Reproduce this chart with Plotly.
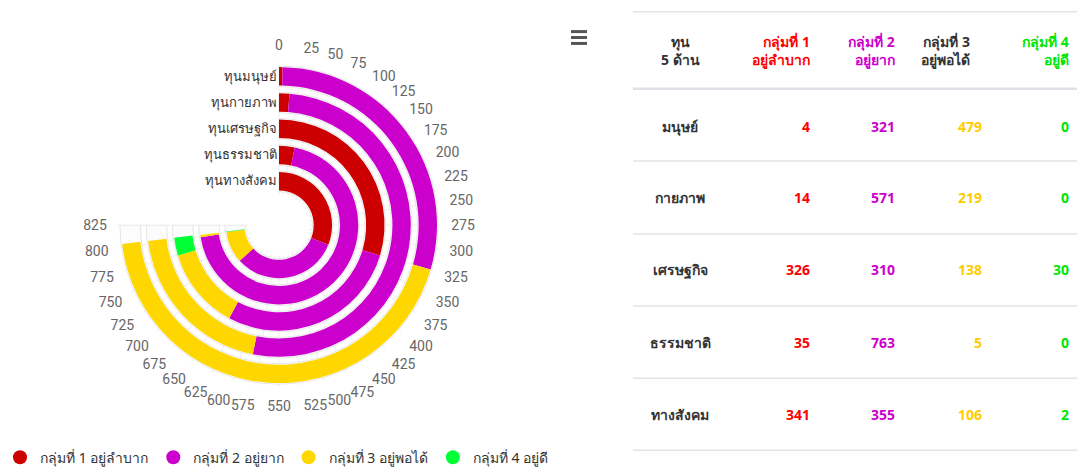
import plotly.graph_objects as go

# data
categories = ['ทุนมนุษย์', 'ทุนกายภาพ', 'ทุนเศรษฐกิจ', 'ทุนธรรมชาติ', 'ทุนทางสังคม']
row_labels = ['มนุษย์', 'กายภาพ', 'เศรษฐกิจ', 'ธรรมชาติ', 'ทางสังคม']
group_names = ['กลุ่มที่ 1 อยู่ลำบาก', 'กลุ่มที่ 2 อยู่ยาก', 'กลุ่มที่ 3 อยู่พอได้', 'กลุ่มที่ 4 อยู่ดี']
header_top = ['ทุน', 'กลุ่มที่ 1', 'กลุ่มที่ 2', 'กลุ่มที่ 3', 'กลุ่มที่ 4']
header_bottom = ['5 ด้าน', 'อยู่ลำบาก', 'อยู่ยาก', 'อยู่พอได้', 'อยู่ดี']
g1 = [4, 14, 326, 35, 341]
g2 = [321, 571, 310, 763, 355]
g3 = [479, 219, 138, 5, 106]
g4 = [0, 0, 30, 0, 2]
angular_ticks = list(range(0, 826, 25))

groups = [g1, g2, g3, g4]
bar_colors = ['#cc0000', '#cc00cc', '#ffd700', '#00ff33']
header_colors = ['#333333', '#ff0000', '#cc00cc', '#333333', '#00e600']
cell_colors = ['#333333', '#ff0000', '#cc00cc', '#ffcc00', '#00e600']

W, H = 1077, 474
axis_max = 825
scale = 270 / axis_max          # value -> degrees (3/4 of a circle)
n = len(categories)
ring = [n - 1 - i for i in range(n)]   # first category on the outside

FONT = 'Noto Sans, DejaVu Sans, sans-serif'

fig = go.Figure()

# light track behind every ring
fig.add_trace(go.Barpolar(
    r=[0.78] * n, base=[k + 0.11 for k in ring],
    theta=[axis_max / 2 * scale] * n, width=[axis_max * scale] * n,
    marker=dict(color='rgba(252,252,252,1)', line=dict(color='#e6e6e6', width=1)),
    showlegend=False, hoverinfo='skip',
))

cum = [0] * n
for vals, name, col in zip(groups, group_names, bar_colors):
    fig.add_trace(go.Barpolar(
        r=[0.7] * n, base=[k + 0.15 for k in ring],
        theta=[(c + v / 2) * scale for c, v in zip(cum, vals)],
        width=[v * scale for v in vals],
        marker=dict(color=col, line=dict(width=0)),
        name=name, showlegend=False,
        customdata=vals, text=categories,
        hovertemplate='%{text}<br>' + name + ': %{customdata}<extra></extra>',
    ))
    cum = [c + v for c, v in zip(cum, vals)]

# legend entries with round symbols
for name, col in zip(group_names, bar_colors):
    fig.add_trace(go.Scatterpolar(
        r=[None], theta=[None], mode='markers', name=name,
        marker=dict(color=col, size=14, symbol='circle'),
    ))

cx, cy, R = 279, 228, 164
fig.update_layout(
    width=W, height=H,
    margin=dict(l=0, r=0, t=0, b=0),
    paper_bgcolor='white',
    barmode='overlay',
    font=dict(family=FONT, color='#333333'),
    polar=dict(
        domain=dict(x=[(cx - R) / W, (cx + R) / W], y=[(H - cy - R) / H, (H - cy + R) / H]),
        sector=[-180, 90],
        hole=0.19,
        bgcolor='white',
        angularaxis=dict(
            type='linear', thetaunit='degrees',
            rotation=90, direction='clockwise',
            tickmode='array', tickvals=[t * scale for t in angular_ticks],
            ticktext=[str(t) for t in angular_ticks], showticklabels=True,
            ticks='outside', ticklen=7, tickcolor='rgba(0,0,0,0)',
            showline=False, showgrid=True, gridcolor='#ededed',
            tickfont=dict(family='Liberation Sans Narrow, Roboto, sans-serif', size=14, color='#666666'),
        ),
        radialaxis=dict(
            range=[0, n], angle=90, side='counterclockwise',
            tickmode='array', tickvals=[k + 0.5 for k in ring], ticktext=categories,
            ticks='', showline=False, gridcolor='#ededed', tickangle=90,
            tickfont=dict(size=13, color='#333333'),
        ),
    ),
    legend=dict(orientation='h', x=0.0, y=-0.012, xanchor='left', yanchor='bottom',
                font=dict(size=14, color='#333333'), itemwidth=30),
)

# menu icon
for y in (32, 38, 44):
    fig.add_shape(type='line', xref='paper', yref='paper',
                  x0=571 / W, x1=587 / W, y0=1 - y / H, y1=1 - y / H,
                  line=dict(color='#555555', width=3))

# table on the right
px = lambda x: x / W
py = lambda y: 1 - y / H
tx0, tx1 = 633, 1077
col_x = [680, 812, 897, 984, 1071]
head_x = [680, 812, 897, 972, 1071]
row_y = [128, 200, 273, 347, 420]

fig.add_shape(type='line', xref='paper', yref='paper', x0=px(tx0), x1=px(tx1),
              y0=py(12), y1=py(12), line=dict(color='#e3e3e3', width=1.5))
fig.add_shape(type='line', xref='paper', yref='paper', x0=px(tx0), x1=px(tx1),
              y0=py(90), y1=py(90), line=dict(color='#dee2e6', width=2.5))
for y in (163, 237, 310, 383, 456):
    fig.add_shape(type='line', xref='paper', yref='paper', x0=px(tx0), x1=px(tx1),
                  y0=py(y), y1=py(y), line=dict(color='#e3e3e3', width=1.5))

for j in range(5):
    fig.add_annotation(
        x=px(head_x[j]), y=py(51), xref='paper', yref='paper',
        text=f'<b>{header_top[j]}<br>{header_bottom[j]}</b>',
        showarrow=False, xanchor='center' if j == 0 else 'right', yanchor='middle',
        align='center' if j == 0 else 'right',
        font=dict(size=14, color=header_colors[j]),
    )

columns = [row_labels, g1, g2, g3, g4]
for i in range(n):
    for j in range(5):
        fig.add_annotation(
            x=px(col_x[j]), y=py(row_y[i]), xref='paper', yref='paper',
            text=f'<b>{columns[j][i]}</b>', showarrow=False,
            xanchor='center' if j == 0 else 'right', yanchor='middle',
            font=dict(size=14, color=cell_colors[j]),
        )

# drop the default page margin so the figure fills the window exactly
fig.write_html('out.html', config={'displayModeBar': False},
               post_script="document.body.style.margin='0px';")
